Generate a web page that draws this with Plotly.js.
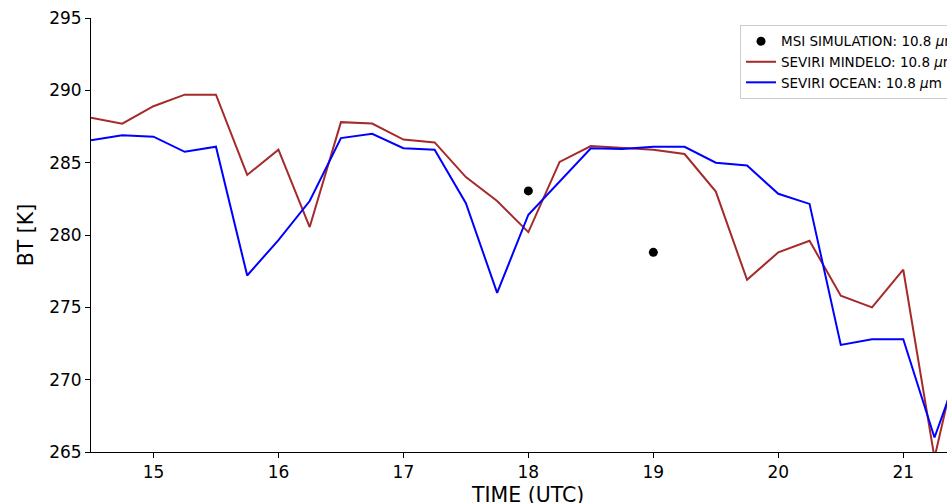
<!DOCTYPE html>
<html>
<head>
<meta charset="utf-8">
<script src="https://cdn.plot.ly/plotly-3.0.1.min.js"></script>
<style>html,body{margin:0;padding:0;background:#fff;overflow:hidden;width:947px;height:503px;}#chart{width:1000px;height:503px;}</style>
</head>
<body>
<div id="chart"></div>
<script>
const timeUTC = [14.5,14.75,15.0,15.25,15.5,15.75,16.0,16.25,16.5,16.75,17.0,17.25,17.5,17.75,18.0,18.25,18.5,18.75,19.0,19.25,19.5,19.75,20.0,20.25,20.5,20.75,21.0,21.25,21.5];
const mindelo = [288.1,287.7,288.9,289.7,289.7,284.15,285.9,280.55,287.8,287.7,286.6,286.4,284.0,282.35,280.2,285.05,286.15,286.0,285.9,285.6,283.0,276.9,278.8,279.6,275.8,275.0,277.6,264.6,274.0];
const ocean = [286.55,286.9,286.8,285.75,286.1,277.2,279.65,282.35,286.7,287.0,286.0,285.9,282.2,276.0,281.4,283.7,286.0,285.95,286.1,286.1,285.0,284.8,282.85,282.15,272.4,272.8,272.8,266.0,272.0];
const msiTime = [18, 19];
const msiBT = [283.05, 278.8];
const xTicks = [15,16,17,18,19,20,21];
const yTicks = [265,270,275,280,285,290,295];
const xTitle = 'TIME (UTC)';

const traces = [
  {x: msiTime, y: msiBT, mode: 'markers', type: 'scatter', name: 'MSI SIMULATION: 10.8 <i>μ</i>m',
   marker: {color: '#000', size: 9}},
  {x: timeUTC, y: mindelo, mode: 'lines', type: 'scatter', name: 'SEVIRI MINDELO: 10.8 <i>μ</i>m',
   line: {color: '#a52a2a', width: 2}},
  {x: timeUTC, y: ocean, mode: 'lines', type: 'scatter', name: 'SEVIRI OCEAN: 10.8 <i>μ</i>m',
   line: {color: '#0000ff', width: 2}}
];

const layout = {
  width: 1000, height: 503,
  margin: {l: 91, r: 53, t: 18, b: 51},
  paper_bgcolor: '#fff', plot_bgcolor: '#fff',
  font: {family: 'DejaVu Sans', color: '#000', size: 15},
  showlegend: true,
  legend: {x: 0.7582, y: 0.984, xanchor: 'left', yanchor: 'top', bgcolor: 'rgba(255,255,255,0.8)',
    bordercolor: '#ccc', borderwidth: 1, font: {size: 13.5, family: 'DejaVu Sans'}},
  annotations: [{text: xTitle, xref: 'paper', yref: 'paper', x: (527 - 91) / 856, y: -0.098,
    xanchor: 'center', yanchor: 'middle', showarrow: false, font: {size: 20.5, family: 'DejaVu Sans', color: '#000'}}],
  xaxis: {range: [14.5, 21.35], tickvals: xTicks, ticktext: xTicks.map(String), showgrid: false, zeroline: false,
    showline: true, linecolor: '#000', linewidth: 1, ticks: 'outside', ticklen: 5, tickcolor: '#000',
    tickfont: {size: 17}, automargin: false},
  yaxis: {range: [265, 295], tickvals: yTicks, ticktext: yTicks.map(String), showgrid: false, zeroline: false,
    showline: true, linecolor: '#000', linewidth: 1, ticks: 'outside', ticklen: 5, tickcolor: '#000',
    tickfont: {size: 17}, automargin: false, title: {text: 'BT [K]', font: {size: 20.5}, standoff: 9}}
};

Plotly.newPlot('chart', traces, layout, {displayModeBar: false, staticPlot: true});
</script>
</body>
</html>
